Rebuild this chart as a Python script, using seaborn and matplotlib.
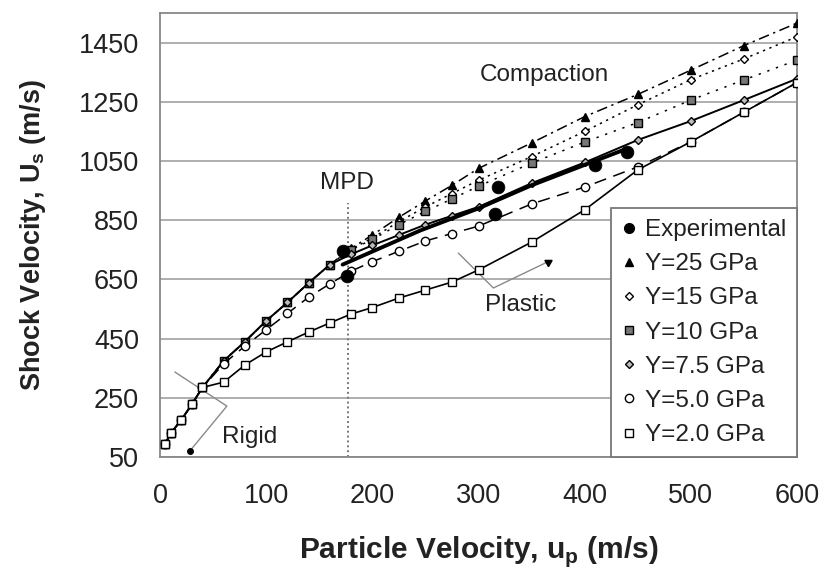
import numpy as np
import pandas as pd
import matplotlib
matplotlib.use("Agg")
import matplotlib.pyplot as plt
from matplotlib.lines import Line2D
import seaborn as sns

# ---------------- data ----------------
up_grid = [5, 10, 20, 30, 40, 60, 80, 100, 120, 140, 160, 180, 200, 225,
           250, 275, 300, 350, 400, 450, 500, 550, 600]

us_y25 = [95, 130, 175, 228, 285, 375, 440, 510, 572, 638, 700, 755, 800, 860,
          915, 968, 1025, 1111, 1200, 1275, 1357, 1440, 1516]
us_y15 = [95, 130, 175, 228, 285, 375, 440, 510, 572, 638, 700, 752, 790, 845,
          895, 940, 985, 1065, 1150, 1240, 1325, 1395, 1470]
us_y10 = [95, 130, 175, 228, 285, 375, 440, 510, 572, 638, 700, 750, 785, 835,
          880, 922, 965, 1043, 1114, 1180, 1256, 1324, 1391]
us_y75 = [95, 130, 175, 228, 285, 375, 440, 510, 572, 638, 700, 735, 765, 800,
          835, 865, 895, 975, 1045, 1121, 1185, 1256, 1328]
us_y50 = [95, 130, 175, 228, 285, 365, 425, 480, 535, 590, 635, 678, 710, 745,
          780, 805, 830, 905, 962, 1030, 1115, 1215, 1315]
us_y20 = [95, 130, 175, 228, 285, 303, 361, 405, 439, 472, 503, 533, 555, 587,
          614, 641, 682, 776, 885, 1020, 1115, 1215, 1315]

exp_up = [172, 176, 316, 318, 410, 440]
exp_us = [745, 660, 872, 962, 1036, 1080]

exp_fit_up = [172, 245, 300, 350, 440]
exp_fit_us = [700, 815, 890, 968, 1092]

legend_labels = ["Experimental", "Y=25 GPa", "Y=15 GPa", "Y=10 GPa",
                 "Y=7.5 GPa", "Y=5.0 GPa", "Y=2.0 GPa"]

x_ticks = [0, 100, 200, 300, 400, 500, 600]
y_ticks = [50, 250, 450, 650, 850, 1050, 1250, 1450]

# ---------------- styling ----------------
sns.set_style("white")
plt.rcParams["font.family"] = ["Liberation Sans", "DejaVu Sans"]
plt.rcParams["mathtext.fontset"] = "custom"
plt.rcParams["mathtext.rm"] = "Liberation Sans"
plt.rcParams["mathtext.bf"] = "Liberation Sans:bold"

fig = plt.figure(figsize=(8.27, 5.76), dpi=100)
ax = fig.add_axes([0.1935, 0.2066, 0.9637 - 0.1935, 0.9774 - 0.2066])

grid_c = "#a8a8a8"
for yt in y_ticks:
    ax.axhline(yt, color=grid_c, lw=1.3, zorder=0)

series = [
    (us_y25, dict(marker="^", ms=6, mfc="k", mec="k", lw=1.1, linestyle=(0, (7, 3, 1.5, 3)))),
    (us_y15, dict(marker="D", ms=4.5, mfc="white", mec="k", lw=1.1, linestyle=(0, (1.5, 3)))),
    (us_y10, dict(marker="s", ms=5.5, mfc="#777777", mec="k", lw=1.1, linestyle=(0, (1.5, 4.5)))),
    (us_y75, dict(marker="D", ms=4.5, mfc="#bbbbbb", mec="k", lw=1.4, linestyle="-")),
    (us_y50, dict(marker="o", ms=6, mfc="white", mec="k", lw=1.1, linestyle=(0, (8, 5)))),
    (us_y20, dict(marker="s", ms=5.5, mfc="white", mec="k", lw=1.2, linestyle="-")),
]
for us, kw in series:
    df = pd.DataFrame({"up": up_grid, "us": us})
    sns.lineplot(data=df, x="up", y="us", ax=ax, color="k", mew=1.0,
                 estimator=None, legend=False, zorder=3, **kw)

# experimental trend (thick line) and points
sns.lineplot(x=exp_fit_up, y=exp_fit_us, ax=ax, color="k", lw=2.8,
             estimator=None, legend=False, zorder=4)
sns.scatterplot(x=exp_up, y=exp_us, ax=ax, color="k", s=85, marker="o",
                edgecolor="k", linewidth=0.5, legend=False, zorder=5)

# MPD line
ax.plot([177, 177], [50, 908], color="#777777", lw=1.4, linestyle=(0, (1, 1.5)), zorder=2)

# annotations
ann_c = "#8a8a8a"
ax.plot([281, 314, 365], [739, 621, 709], color=ann_c, lw=1.0, zorder=2)
ax.plot([365], [709], marker=(3, 0, -60), color="k", ms=6, zorder=2)
ax.plot([14, 63, 28], [337, 222, 70], color=ann_c, lw=1.0, zorder=2)
ax.plot([28], [70], marker="o", color="k", ms=4, zorder=2)

fs = 17.5
ax.text(176, 976, "MPD", ha="center", va="center", fontsize=fs, color="#222222")
ax.text(362, 1340, "Compaction", ha="center", va="center", fontsize=fs, color="#222222")
ax.text(340, 563, "Plastic", ha="center", va="center", fontsize=fs, color="#222222")
ax.text(84, 118, "Rigid", ha="center", va="center", fontsize=fs, color="#222222")

ax.set_xlim(0, 600)
ax.set_ylim(50, 1550)
ax.set_xticks(x_ticks)
ax.set_yticks(y_ticks)
ax.tick_params(axis="both", labelsize=19.5, colors="#222222", length=5,
               width=1.0, direction="out")
ax.tick_params(axis="x", pad=14)
ax.tick_params(axis="y", pad=10)
ax.tick_params(axis="both", color="#888888")
for sp in ax.spines.values():
    sp.set_color("#888888")
    sp.set_linewidth(1.3)

ax.set_xlabel(r"Particle Velocity, u$_\mathbf{p}$ (m/s)", fontsize=21.5,
              fontweight="bold", color="#222222", labelpad=18)
ax.set_ylabel(r"Shock Velocity, U$_\mathbf{s}$ (m/s)", fontsize=19.5,
              fontweight="bold", color="#222222", labelpad=22)

handles = [
    Line2D([], [], ls="none", marker="o", ms=7, mfc="k", mec="k"),
    Line2D([], [], ls="none", marker="^", ms=6, mfc="k", mec="k"),
    Line2D([], [], ls="none", marker="D", ms=4.5, mfc="white", mec="k"),
    Line2D([], [], ls="none", marker="s", ms=5.5, mfc="#777777", mec="k"),
    Line2D([], [], ls="none", marker="D", ms=4.5, mfc="#bbbbbb", mec="k"),
    Line2D([], [], ls="none", marker="o", ms=6, mfc="white", mec="k"),
    Line2D([], [], ls="none", marker="s", ms=5.5, mfc="white", mec="k"),
]
leg = ax.legend(handles, legend_labels, loc="lower right", bbox_to_anchor=(1.0, 0.0),
                fontsize=17.5, frameon=True, fancybox=False, framealpha=1,
                edgecolor="#777777", handlelength=0.6, handletextpad=0.35,
                labelspacing=0.5, borderpad=0.45, borderaxespad=0.0)
leg.get_frame().set_linewidth(1.3)
for t in leg.get_texts():
    t.set_color("#222222")

fig.savefig("out.png", dpi=100)
